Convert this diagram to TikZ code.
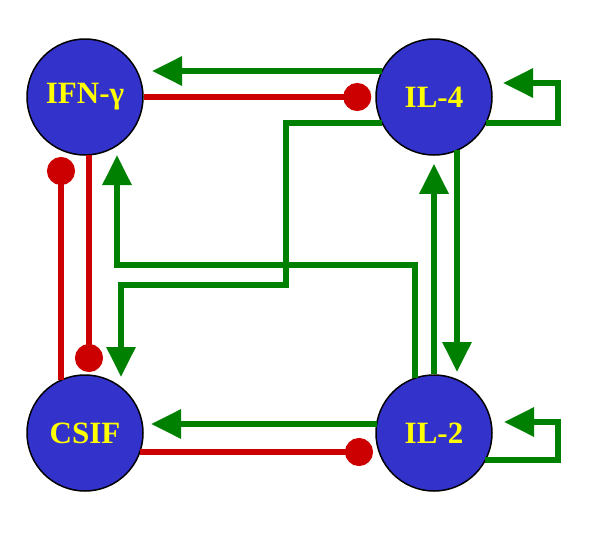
\documentclass[tikz,border=0pt]{standalone}
\usepackage{fontspec}
\setmainfont{Liberation Serif}
\usetikzlibrary{arrows.meta,calc}
\definecolor{cblue}{RGB}{51,51,204}
\definecolor{cgreen}{RGB}{0,128,0}
\definecolor{cred}{RGB}{204,0,0}
\definecolor{cyel}{RGB}{255,255,0}
\tikzset{
  cell/.style={circle,draw=black,line width=1.5pt,fill=cblue,minimum size=116pt,inner sep=0pt,
    text=cyel,font=\fontsize{31pt}{31pt}\selectfont\bfseries},
  act/.style={draw=cgreen,line width=6pt,-{Triangle[length=30pt,width=28pt]}},
  inh/.style={draw=cred,line width=6pt,-{Circle[length=28pt]}}
}
\begin{document}
\begin{tikzpicture}[x=1pt,y=-1pt]
\useasboundingbox (0,0) rectangle (600,533);
\node[cell] (ifn) at (85,97) {IFN-γ};
\node[cell] (il4) at (434,97) {IL-4};
\node[cell] (csif) at (85,433) {CSIF};
\node[cell] (il2) at (434,433) {IL-2};
% bend points
\coordinate (b1) at (286,285);
\coordinate (b2) at (117,265);
\coordinate (l4c) at (558,83);
\coordinate (l2c) at (558,422);
% IL-4 -> IFN
\draw[act] ($(il4.center)+(-52,-26)$) -- ($(ifn.center)+(67,-26)$);
% IFN -| IL-4
\draw[inh,shorten >=4pt] (ifn) -- (il4);
% IL-4 -> CSIF
\draw[act] ($(il4.center)+(-52,26)$) -| (b1) -| ($(csif.center)+(36,-56)$);
% IL-2 -> IFN
\draw[act] ($(il2.center)+(-19,-55)$) |- (b2) -- ($(ifn.center)+(32,58)$);
% IL-2 -> IL-4
\draw[act,shorten >=8pt] (il2) -- (il4);
% IL-4 -> IL-2
\draw[act] ($(il4.center)+(23,53)$) -- ($(il2.center)+(23,-61)$);
% IL-4 self
\draw[act] ($(il4.center)+(52,26)$) -| (l4c) -- ($(il4.center)+(69,-14)$);
% IL-2 self
\draw[act] ($(il2.center)+(51,27)$) -| (l2c) -- ($(il2.center)+(70,-11)$);
% IL-2 -> CSIF
\draw[act] ($(il2.center)+(-57,-9)$) -- ($(csif.center)+(66,-9)$);
% CSIF -| IL-2
\draw[inh] ($(csif.center)+(55,19)$) -- ($(il2.center)+(-61,19)$);
% IFN -| CSIF
\draw[inh] ($(ifn.center)+(4,58)$) -- ($(csif.center)+(4,-61)$);
% CSIF -| IFN
\draw[inh] ($(csif.center)+(-24,-53)$) -- ($(ifn.center)+(-24,60)$);
\end{tikzpicture}
\end{document}
